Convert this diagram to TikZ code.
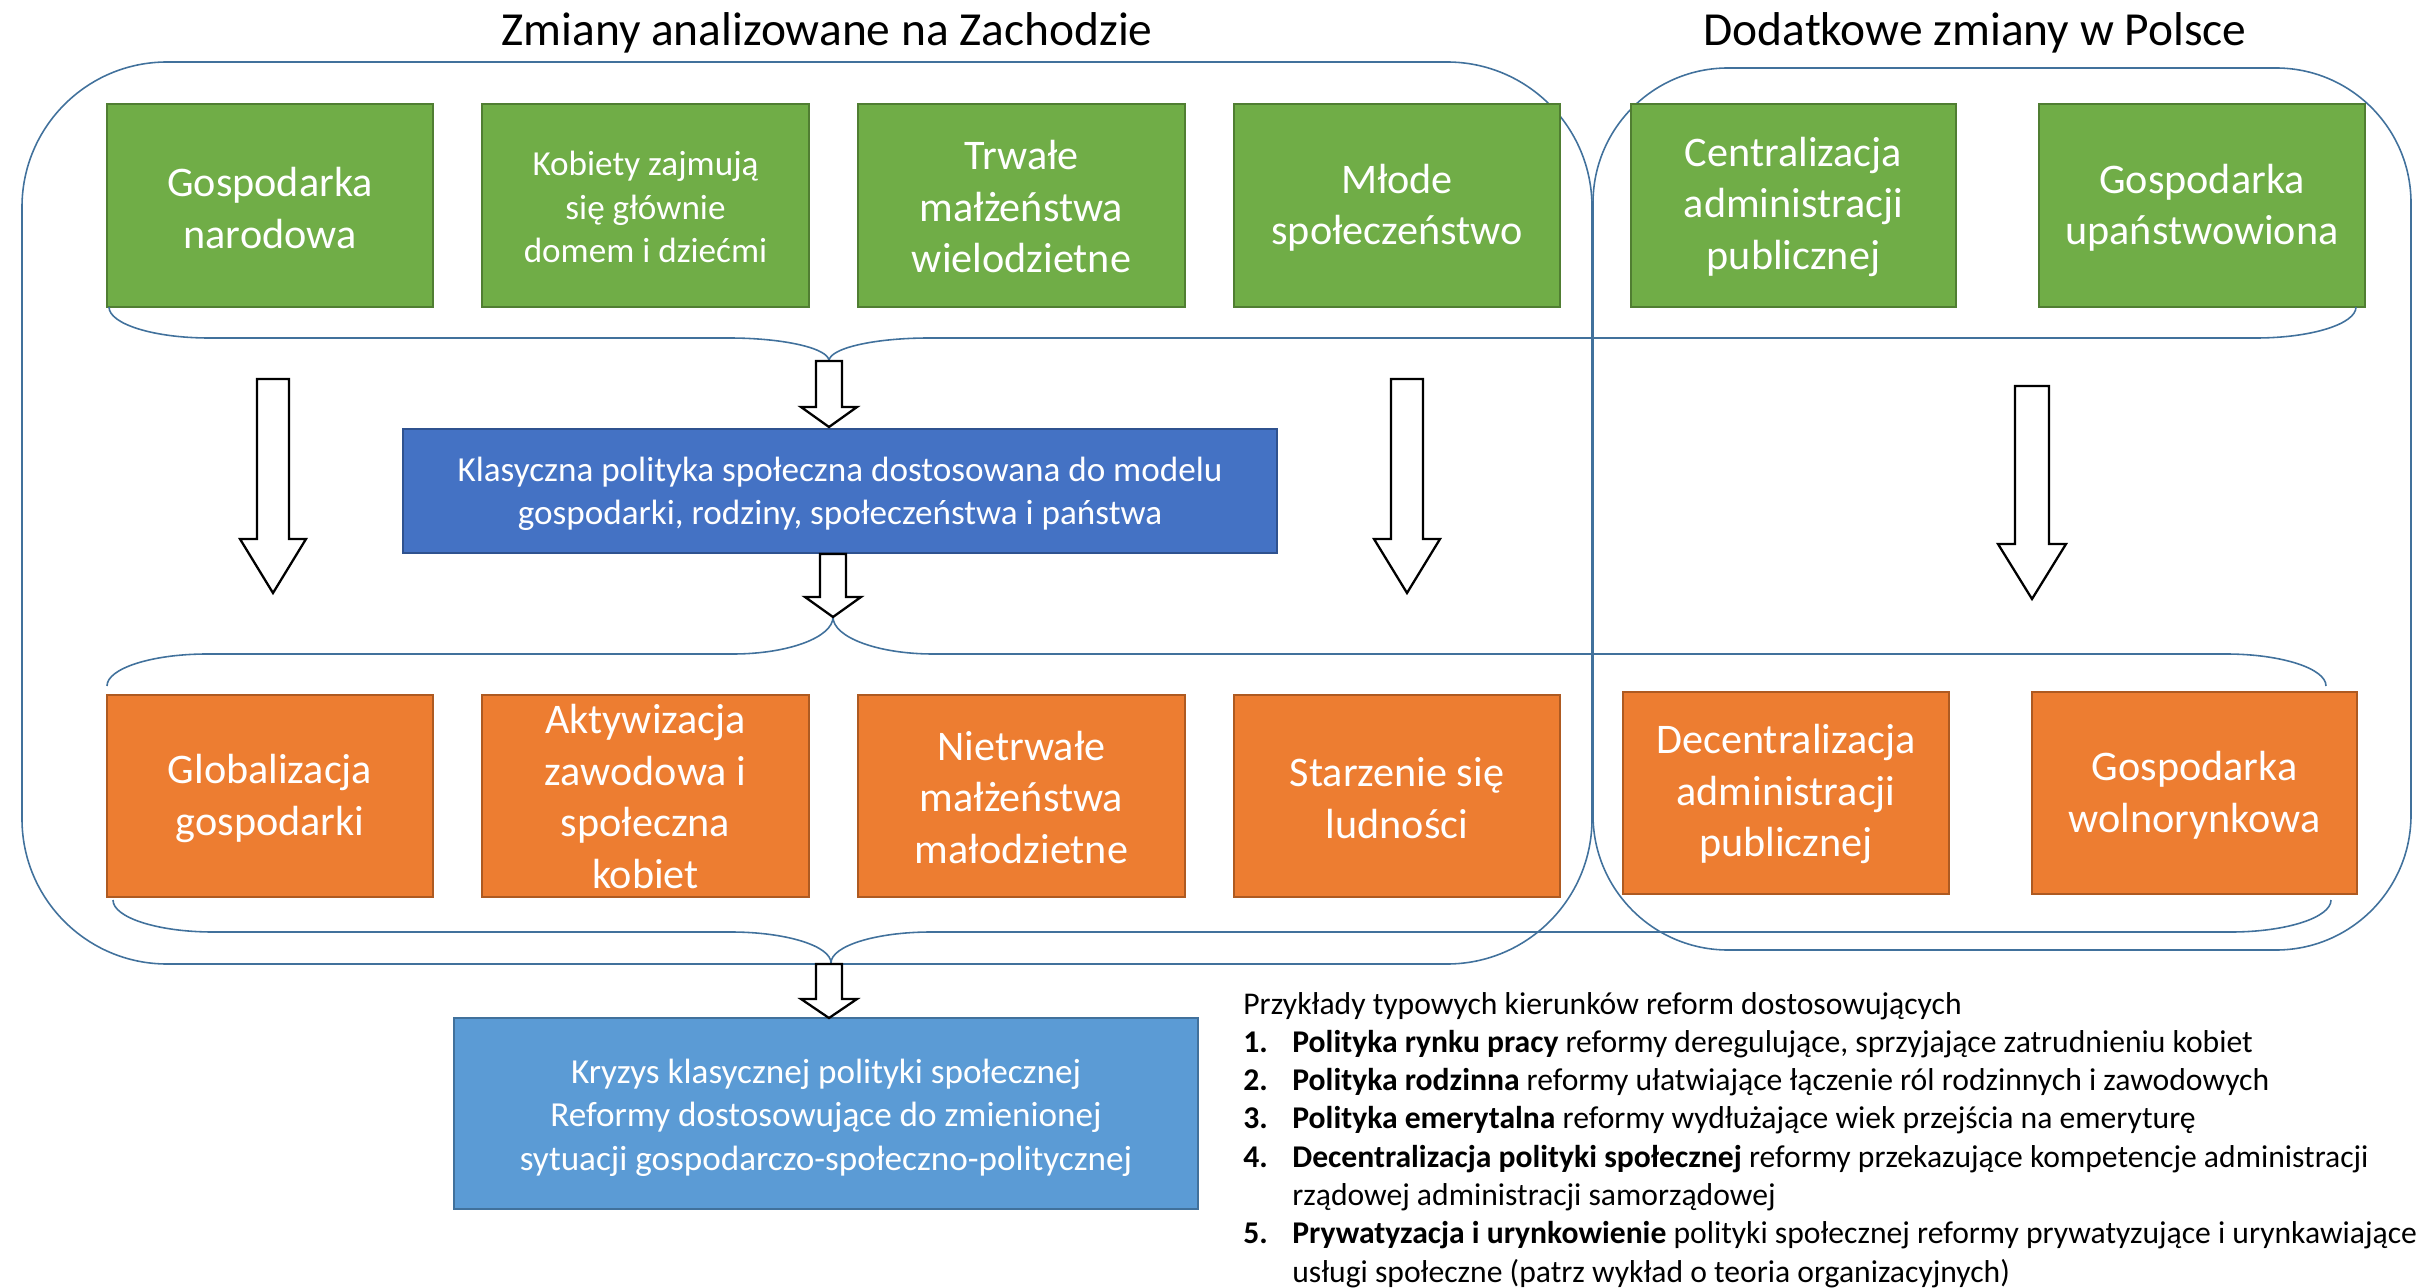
\documentclass[tikz,border=0pt]{standalone}
\usepackage{fontspec}
\setmainfont{Carlito}
\usetikzlibrary{fit}
\definecolor{cgreen}{HTML}{70AD47}
\definecolor{cgreenb}{HTML}{507E32}
\definecolor{corange}{HTML}{ED7D31}
\definecolor{coranb}{HTML}{AE5A21}
\definecolor{cblue}{HTML}{4472C4}
\definecolor{cblueb}{HTML}{2F528F}
\definecolor{clblue}{HTML}{5B9BD5}
\definecolor{cframe}{HTML}{41719C}
\newcommand{\bracedraw}[6]{%
\draw[bracesty] (#1,#2) .. controls (#1,{#2+0.55*(#3-#2)}) and ({#1+45},#3) .. ({#1+100},#3)
 -- ({#4-100},#3) .. controls ({#4-45},#3) and (#4,{#5-0.55*(#5-#3)}) .. (#4,#5)
 .. controls (#4,{#5-0.55*(#5-#3)}) and ({#4+45},#3) .. ({#4+100},#3)
 -- ({#6-100},#3) .. controls ({#6-45},#3) and (#6,{#2+0.55*(#3-#2)}) .. (#6,#2);}
\newcommand{\blockarr}[6]{%
\draw[arrowsty] ({#1-#4},#2) -- ({#1+#4},#2) -- ({#1+#4},{#3-#6}) -- ({#1+#5},{#3-#6}) -- (#1,#3) -- ({#1-#5},{#3-#6}) -- ({#1-#4},{#3-#6}) -- cycle;}
\tikzset{
  box/.style={inner sep=0pt, outer sep=0pt, line width=0.9pt},
  gbox/.style={box, fill=cgreen, draw=cgreenb},
  obox/.style={box, fill=corange, draw=coranb},
  bbox/.style={box, fill=cblue, draw=cblueb},
  lbbox/.style={box, fill=clblue, draw=cframe},
  btext/.style={inner sep=0pt, text=white, align=center, font=\fontsize{24}{29.3}\selectfont},
  stext/.style={inner sep=0pt, text=white, align=center, font=\fontsize{20}{24.6}\selectfont},
  framesty/.style={draw=cframe, line width=0.9pt, inner sep=0pt, outer sep=0pt},
  bracesty/.style={draw=cframe, line width=0.9pt},
  arrowsty/.style={draw=black, fill=white, line width=1.3pt, line join=miter},
  titlesty/.style={inner sep=0pt, font=\fontsize{27}{33}\selectfont},
  liststy/.style={inner sep=0pt, anchor=base west, font=\fontsize{18}{22}\selectfont},
}
\begin{document}
\begin{tikzpicture}[x=0.2mm,y=-0.2mm]
\useasboundingbox (0,0) rectangle (2433,1288);
% titles
\node[titlesty] (t1) at (827,33) {Zmiany analizowane na Zachodzie};
\node[titlesty] (t2) at (1975,33) {Dodatkowe zmiany w Polsce};
% frames
\node[framesty, rounded corners=29mm, fit={(22,62) (1592,964)}] (west) {};
\node[framesty, rounded corners=27mm, fit={(1593,68) (2411,950)}] (pol) {};
% green boxes
\node[gbox, fit={(107,104) (433,307)}] (g1) {};
\node[gbox, fit={(482,104) (809,307)}] (g2) {};
\node[gbox, fit={(858,104) (1185,307)}] (g3) {};
\node[gbox, fit={(1234,104) (1560,307)}] (g4) {};
\node[gbox, fit={(1631,104) (1956,307)}] (g5) {};
\node[gbox, fit={(2039,104) (2365,307)}] (g6) {};
\node[btext] (g1t) at ([yshift=-1.3pt]g1.center) {Gospodarka\\narodowa};
\node[stext] (g2t) at ([yshift=-0.9pt]g2.center) {Kobiety zajmują\\się głównie\\domem i dziećmi};
\node[btext] (g3t) at ([yshift=-0.8pt]g3.center) {Trwałe\\małżeństwa\\wielodzietne};
\node[btext] (g4t) at ([yshift=-1.3pt]g4.center) {Młode\\społeczeństwo};
\node[btext] (g5t) at ([yshift=-0.8pt]g5.center) {Centralizacja\\administracji\\publicznej};
\node[btext] (g6t) at ([yshift=-1.3pt]g6.center) {Gospodarka\\upaństwowiona};
% orange boxes
\node[obox, fit={(107,695) (433,897)}] (o1) {};
\node[obox, fit={(482,695) (809,897)}] (o2) {};
\node[obox, fit={(858,695) (1185,897)}] (o3) {};
\node[obox, fit={(1234,695) (1560,897)}] (o4) {};
\node[obox, fit={(1623,692) (1949,894)}] (o5) {};
\node[obox, fit={(2032,692) (2357,894)}] (o6) {};
\node[btext] (o1t) at ([yshift=-1.3pt]o1.center) {Globalizacja\\gospodarki};
\node[btext] (o2t) at ([yshift=-0.3pt]o2.center) {Aktywizacja\\zawodowa i\\społeczna\\kobiet};
\node[btext] (o3t) at ([yshift=-0.8pt]o3.center) {Nietrwałe\\małżeństwa\\małodzietne};
\node[btext] (o4t) at ([yshift=-1.3pt]o4.center) {Starzenie się\\ludności};
\node[btext] (o5t) at ([yshift=-0.8pt]o5.center) {Decentralizacja\\administracji\\publicznej};
\node[btext] (o6t) at ([yshift=-1.3pt]o6.center) {Gospodarka\\wolnorynkowa};
% blue boxes
\node[bbox, fit={(403,429) (1277,553)}] (klas) {};
\node[stext] (klast) at ([yshift=-1.7pt]klas.center) {Klasyczna polityka społeczna dostosowana do modelu\\gospodarki, rodziny, społeczeństwa i państwa};
\node[lbbox, fit={(454,1018) (1198,1209)}] (kryz) {};
\node[stext] (kryzt) at ([yshift=-2.4pt]kryz.center) {Kryzys klasycznej polityki społecznej\\Reformy dostosowujące do zmienionej\\sytuacji gospodarczo-społeczno-politycznej};
% braces
\bracedraw{109}{307}{338}{829}{361}{2356}
\bracedraw{107}{686}{654}{833}{617}{2326}
\bracedraw{113}{900}{932}{831}{963}{2331}
% small block arrows
\blockarr{829}{361}{427}{13}{28}{20}
\blockarr{833}{554}{617}{13}{28}{20}
\blockarr{829}{964}{1018}{13}{28}{19}
% big block arrows
\blockarr{273}{379}{593}{16}{33}{54}
\blockarr{1407}{379}{593}{16}{33}{54}
\blockarr{2032}{386}{599}{17}{34}{55}
% list
\node[liststy] (lh) at (1243,1014) {Przykłady typowych kierunków reform dostosowujących};
\node[liststy] (l1) at (1243,1052.3) {\makebox[27.9pt][l]{\textbf{1.}}\textbf{Polityka rynku pracy} reformy deregulujące, sprzyjające zatrudnieniu kobiet};
\node[liststy] (l2) at (1243,1090.6) {\makebox[27.9pt][l]{\textbf{2.}}\textbf{Polityka rodzinna} reformy ułatwiające łączenie ról rodzinnych i zawodowych};
\node[liststy] (l3) at (1243,1128.9) {\makebox[27.9pt][l]{\textbf{3.}}\textbf{Polityka emerytalna} reformy wydłużające wiek przejścia na emeryturę};
\node[liststy] (l4) at (1243,1167.2) {\makebox[27.9pt][l]{\textbf{4.}}\textbf{Decentralizacja polityki społecznej} reformy przekazujące kompetencje administracji};
\node[liststy] (l4b) at (1292,1205.5) {rządowej administracji samorządowej};
\node[liststy] (l5) at (1243,1243.8) {\makebox[27.9pt][l]{\textbf{5.}}\textbf{Prywatyzacja i urynkowienie} polityki społecznej reformy prywatyzujące i urynkawiające};
\node[liststy] (l5b) at (1292,1282.1) {usługi społeczne (patrz wykład o teoria organizacyjnych)};
\end{tikzpicture}
\end{document}
